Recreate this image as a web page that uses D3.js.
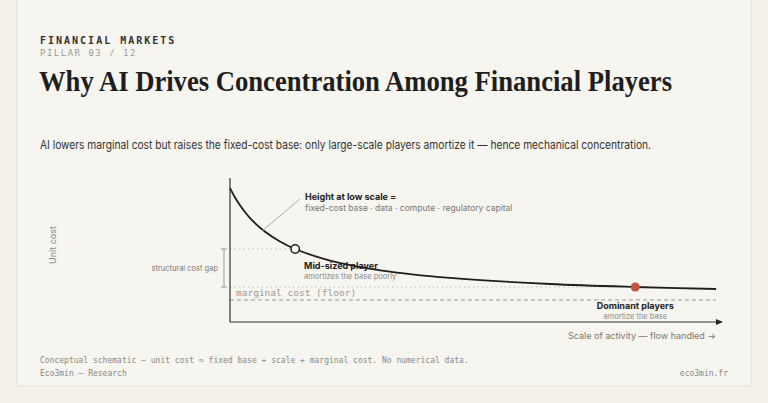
<!DOCTYPE html>
<html><head><meta charset="utf-8">
<script src="https://cdn.jsdelivr.net/npm/d3@7"></script>
<style>
body{margin:0;background:#f3f1ea;}
svg{display:block;}
</style></head>
<body><svg id="c" width="768" height="403"></svg>
<script>
// Conceptual curve: unit cost vs scale (0-100 schematic units)
const scaleValues = [0, 1, 2, 4.1, 7.1, 10, 13.3, 20.4, 31.4, 44.9, 65.3, 82.7, 99.2];
const costValues  = [93, 86.6, 81.2, 72.1, 62.8, 56.3, 50.7, 42.7, 35.5, 30.6, 26.4, 24.3, 22.9];
const floorCost = 15.3;
const midPlayer = {scale: 13.3, cost: 50.7};
const dominant = {scale: 82.7, cost: 24.3};

const svg = d3.select("#c");
svg.append("rect").attr("x",17).attr("y",-2).attr("width",734).attr("height",388)
  .attr("fill","#f7f5ef").attr("stroke","#e6e2d8");

const mono = "'DejaVu Sans Mono', 'Liberation Mono', monospace";
const sans = "Inter, 'Noto Sans', sans-serif";
svg.append("text").attr("x",40).attr("y",44).text("FINANCIAL MARKETS")
  .attr("font-family",mono).attr("font-size",10).attr("font-weight","bold").attr("letter-spacing",2).attr("fill","#333");
svg.append("text").attr("x",40).attr("y",56).text("PILLAR 03 / 12")
  .attr("font-family",mono).attr("font-size",9).attr("letter-spacing",1.5).attr("fill","#999");
svg.append("text").attr("x",39).attr("y",91).text("Why AI Drives Concentration Among Financial Players")
  .attr("font-family","'Liberation Serif', 'DejaVu Serif', serif").attr("font-size",30).attr("font-weight","bold").attr("fill","#1e1e1e")
  .attr("textLength",633).attr("lengthAdjust","spacingAndGlyphs");
svg.append("text").attr("x",40).attr("y",149).text("AI lowers marginal cost but raises the fixed-cost base: only large-scale players amortize it — hence mechanical concentration.")
  .attr("font-family",sans).attr("font-size",11.5).attr("fill","#333")
  .attr("textLength",611).attr("lengthAdjust","spacingAndGlyphs");

const x = d3.scaleLinear().domain([0,100]).range([230,720]);
const y = d3.scaleLinear().domain([0,100]).range([322,178]);

// gap guides
svg.append("line").attr("x1",230).attr("x2",x(midPlayer.scale)).attr("y1",y(midPlayer.cost)).attr("y2",y(midPlayer.cost))
  .attr("stroke","#bbb").attr("stroke-dasharray","1.5,3");
svg.append("line").attr("x1",230).attr("x2",x(dominant.scale)).attr("y1",y(dominant.cost)).attr("y2",y(dominant.cost))
  .attr("stroke","#bbb").attr("stroke-dasharray","1.5,3");
svg.append("line").attr("x1",224).attr("x2",224).attr("y1",y(midPlayer.cost)).attr("y2",y(dominant.cost)).attr("stroke","#999");
[midPlayer.cost,dominant.cost].forEach(v=>svg.append("line").attr("x1",221).attr("x2",227).attr("y1",y(v)).attr("y2",y(v)).attr("stroke","#999"));
svg.append("text").attr("x",218).attr("y",(y(midPlayer.cost)+y(dominant.cost))/2+3).attr("text-anchor","end")
  .text("structural cost gap").attr("font-family",sans).attr("font-size",7.5).attr("fill","#777");

// floor
svg.append("line").attr("x1",230).attr("x2",716).attr("y1",y(floorCost)).attr("y2",y(floorCost))
  .attr("stroke","#999").attr("stroke-dasharray","4,3");
svg.append("text").attr("x",236).attr("y",y(floorCost)-4).text("marginal cost (floor)")
  .attr("font-family",mono).attr("font-size",9.5).attr("fill","#999");

// axes
svg.append("line").attr("x1",230).attr("x2",230).attr("y1",178).attr("y2",322).attr("stroke","#333").attr("stroke-width",1.2);
svg.append("line").attr("x1",230).attr("x2",717).attr("y1",322).attr("y2",322).attr("stroke","#333").attr("stroke-width",1.2);
svg.append("path").attr("d","M723,322 L716,319 L716,325 Z").attr("fill","#222");
svg.append("text").attr("x",716).attr("y",339).attr("text-anchor","end").text("Scale of activity — flow handled →")
  .attr("font-family",sans).attr("font-size",9).attr("fill","#777");
svg.append("text").attr("transform","translate(56,245) rotate(-90)").attr("text-anchor","middle").text("Unit cost")
  .attr("font-family",sans).attr("font-size",9).attr("fill","#888");

// curve
const pts = scaleValues.map((s,i)=>[s,costValues[i]]);
svg.append("path").datum(pts).attr("fill","none").attr("stroke","#1e1e1e").attr("stroke-width",1.8)
  .attr("d",d3.line().x(d=>x(d[0])).y(d=>y(d[1])).curve(d3.curveCatmullRom));

// leader line
svg.append("line").attr("x1",262).attr("y1",231).attr("x2",300).attr("y2",199).attr("stroke","#aaa");
svg.append("text").attr("x",305).attr("y",200).text("Height at low scale =")
  .attr("font-family",sans).attr("font-size",9).attr("font-weight","bold").attr("fill","#222");
svg.append("text").attr("x",305).attr("y",211).text("fixed-cost base · data · compute · regulatory capital")
  .attr("font-family",sans).attr("font-size",8.5).attr("fill","#777");

// points
svg.append("circle").attr("cx",x(midPlayer.scale)).attr("cy",y(midPlayer.cost)).attr("r",4.2)
  .attr("fill","#f7f5ef").attr("stroke","#1e1e1e").attr("stroke-width",1.5);
svg.append("text").attr("x",304).attr("y",269).text("Mid-sized player")
  .attr("font-family",sans).attr("font-size",9).attr("font-weight","bold").attr("fill","#222");
svg.append("text").attr("x",304).attr("y",279).text("amortizes the base poorly")
  .attr("font-family",sans).attr("font-size",7.5).attr("fill","#888");
svg.append("circle").attr("cx",x(dominant.scale)).attr("cy",y(dominant.cost)).attr("r",4.5).attr("fill","#c0573a");
svg.append("text").attr("x",x(dominant.scale)).attr("y",309).attr("text-anchor","middle").text("Dominant players")
  .attr("font-family",sans).attr("font-size",9).attr("font-weight","bold").attr("fill","#222");
svg.append("text").attr("x",x(dominant.scale)).attr("y",319).attr("text-anchor","middle").text("amortize the base")
  .attr("font-family",sans).attr("font-size",7.5).attr("fill","#888");

// footer
svg.append("text").attr("x",40).attr("y",363).text("Conceptual schematic — unit cost ≈ fixed base ÷ scale + marginal cost. No numerical data.")
  .attr("font-family",mono).attr("font-size",8).attr("fill","#888");
svg.append("text").attr("x",40).attr("y",376).text("Eco3min — Research")
  .attr("font-family",mono).attr("font-size",8).attr("fill","#888");
svg.append("text").attr("x",728).attr("y",376).attr("text-anchor","end").text("eco3min.fr")
  .attr("font-family",mono).attr("font-size",8).attr("fill","#888");
</script></body></html>
